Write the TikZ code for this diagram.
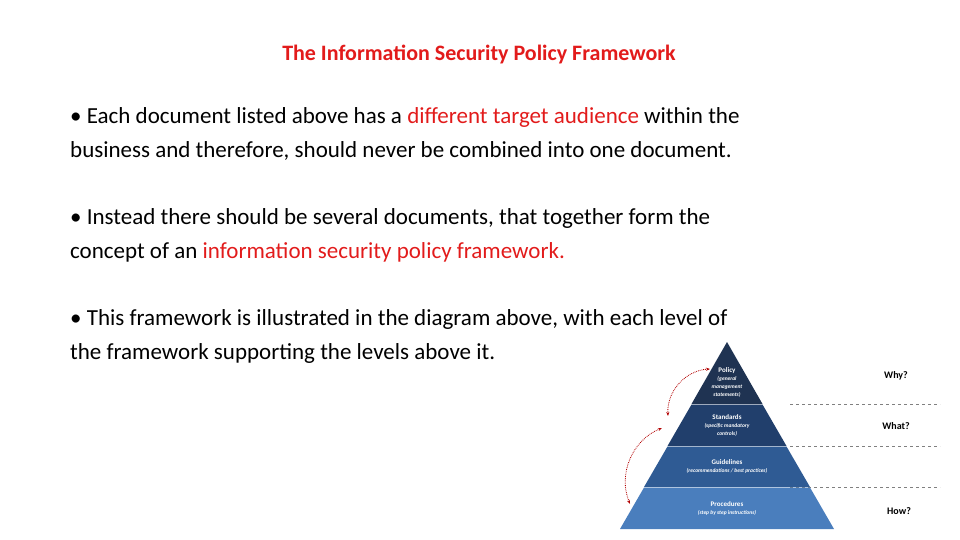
\documentclass[tikz,border=0pt]{standalone}
\usepackage{fontspec}
\setmainfont{Carlito}
\usetikzlibrary{arrows.meta}
\definecolor{tred}{HTML}{E21B1B}
\definecolor{lA}{HTML}{1F3352}
\definecolor{lB}{HTML}{213F6C}
\definecolor{lC}{HTML}{2F5B94}
\definecolor{lD}{HTML}{4A7EBD}
\newcommand{\subf}{\fontsize{5.5}{6.5}\selectfont\bfseries\itshape}
\begin{document}
\begin{tikzpicture}[x=1pt,y=-1pt,
  body/.style={anchor=north west,align=left,font=\fontsize{23}{34}\selectfont,inner sep=0},
  lvl/.style={text=white,align=center,inner sep=0,font=\fontsize{7}{8}\selectfont\bfseries},
  q/.style={font=\fontsize{10}{12}\selectfont\bfseries,inner sep=0},
  arr/.style={draw=red!70!black,densely dotted,thick,{Stealth[length=4pt]}-{Stealth[length=4pt]}}]
\useasboundingbox (0,0) rectangle (960,540);
\node[font=\fontsize{22}{26}\selectfont\bfseries,text=tred] (title) at (479,54) {The Information Security Policy Framework};
\node[body] (p1) at (70,107) {• Each document listed above has a \textcolor{tred}{different target audience} within the\\business and therefore, should never be combined into one document.};
\node[body] (p2) at (70,208) {• Instead there should be several documents, that together form the\\concept of an \textcolor{tred}{information security policy framework.}};
\node[body] (p3) at (70,309) {• This framework is illustrated in the diagram above, with each level of\\the framework supporting the levels above it.};
\foreach \y in {404,446,487} \draw[gray,dashed] (790,\y) -- (940,\y);
\fill[lA] (727,342) -- (762.5,404) -- (691.5,404) -- cycle;
\fill[lB] (691.5,404.5) -- (762.5,404.5) -- (786.5,446) -- (667.5,446) -- cycle;
\fill[lC] (667.5,446.5) -- (786.5,446.5) -- (810,487) -- (644,487) -- cycle;
\fill[lD] (644,487.5) -- (810,487.5) -- (834,529) -- (620,529) -- cycle;
\node[lvl] (policy) at (727,382) {Policy\\\subf (general\\\subf management\\\subf statements)};
\node[lvl] (standards) at (727,425) {Standards\\\subf (specific mandatory\\\subf controls)};
\node[lvl] (guide) at (727,466) {Guidelines\\\subf (recommendations / best practices)};
\node[lvl] (proc) at (727,508) {Procedures\\\subf (step by step instructions)};
\node[q] (why) at (896,376) {Why?};
\node[q] (what) at (896,426) {What?};
\node[q] (how) at (899,511) {How?};
\coordinate (a1) at (710,369);
\coordinate (a2) at (668,416);
\coordinate (b1) at (662,428);
\coordinate (b2) at (630,504);
\draw[arr] (a1) to[bend right=45] (a2);
\draw[arr] (b1) to[bend right=45] (b2);
\end{tikzpicture}
\end{document}
